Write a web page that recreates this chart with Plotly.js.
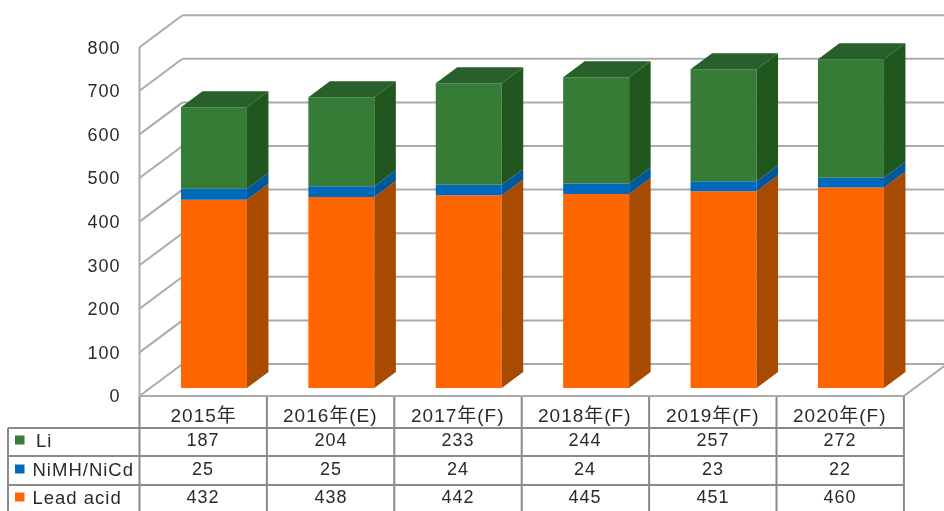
<!DOCTYPE html>
<html>
<head>
<meta charset="utf-8">
<script src="https://cdn.plot.ly/plotly-3.0.1.min.js"></script>
<style>
html,body{margin:0;padding:0;background:#fff}
#chart{width:944px;height:511px;filter:blur(0.5px)}
#chart text{letter-spacing:1px}
</style>
</head>
<body>
<div id="chart"></div>
<script>
// ---- data ----
const categories = ['2015年','2016年(E)','2017年(F)','2018年(F)','2019年(F)','2020年(F)'];
const leadAcid = [432,438,442,445,451,460];
const nimh     = [25,25,24,24,23,22];
const li       = [187,204,233,244,257,272];
const yTicks   = [0,100,200,300,400,500,600,700,800];

// ---- styling ----
const W = 944, H = 511;
const axisLeftPx = 139.5, slotPx = 127.4, zeroPx = 396, pxPerUnit = 0.436;
const depthX = 43/slotPx, depthY = 32/pxPerUnit;   // projection of the full chart depth
const dFront = 0.25, dBack = 0.75, barW = 66/slotPx;
const gridColor = '#ababab', tableColor = '#8a8a8a', textColor = '#2a2a2a';
const fontFamily = '"Liberation Sans","Noto Sans CJK SC",sans-serif';

const series = [
  {name:'Lead acid', values:leadAcid, front:'#ff6600', side:'#a84a00', top:'#a84a00'},
  {name:'NiMH/NiCd', values:nimh,     front:'#0069bd', side:'#00579c', top:'#00579c'},
  {name:'Li',        values:li,       front:'#367c36', side:'#20571f', top:'#27602a'}
];

const paperX = px => px/W, paperY = px => 1-px/H;
const traces = [];
const n = categories.length;
const centers = categories.map((_,i)=>i+0.5+dFront*depthX);
const cum = categories.map(()=>0);

series.forEach(s=>{
  const base = cum.map(c=>c+dFront*depthY);
  traces.push({type:'bar',name:s.name,x:centers,y:s.values,base:base,width:barW,
    marker:{color:s.front,line:{width:0}},hoverinfo:'skip',showlegend:false});
  const sx=[],sy=[];
  s.values.forEach((v,i)=>{
    const r=centers[i]+barW/2, b0=cum[i], b1=cum[i]+v, dd=dBack-dFront;
    const f=dFront*depthY;
    sx.push(r,r+dd*depthX,r+dd*depthX,r,null);
    sy.push(b0+f,b0+f+dd*depthY,b1+f+dd*depthY,b1+f,null);
    cum[i]=b1;
  });
  traces.push({type:'scatter',mode:'lines',x:sx,y:sy,fill:'toself',fillcolor:s.side,
    line:{width:0,color:s.side},hoverinfo:'skip',showlegend:false});
});
// top faces of the stack
const tx=[],ty=[];
cum.forEach((t,i)=>{
  const l=centers[i]-barW/2, r=centers[i]+barW/2, dd=dBack-dFront, f=dFront*depthY;
  tx.push(l,r,r+dd*depthX,l+dd*depthX,null);
  ty.push(t+f,t+f,t+f+dd*depthY,t+f+dd*depthY,null);
});
traces.push({type:'scatter',mode:'lines',x:tx,y:ty,fill:'toself',fillcolor:series[2].top,
  line:{width:0,color:series[2].top},hoverinfo:'skip',showlegend:false});

// ---- walls ----
const shapes = [];
const gl = {color:gridColor,width:2};
const xMax = (W-axisLeftPx)/slotPx;
yTicks.forEach(t=>{
  shapes.push({type:'line',layer:'below',xref:'x',yref:'y',x0:0,y0:t,x1:depthX,y1:t+depthY,line:gl});
  shapes.push({type:'line',layer:'below',xref:'x',yref:'y',x0:depthX,y0:t+depthY,x1:xMax+0.1,y1:t+depthY,line:gl});
});
shapes.push({type:'line',layer:'below',xref:'x',yref:'y',x0:0,y0:0,x1:0,y1:800,line:gl});
shapes.push({type:'line',layer:'below',xref:'x',yref:'y',x0:0,y0:0,x1:n,y1:0,line:gl});
shapes.push({type:'line',layer:'below',xref:'x',yref:'y',x0:n,y0:0,x1:n+depthX,y1:depthY,line:gl});

// ---- data table ----
const tl = {color:tableColor,width:2};
const headerBottomPx = 428, rowLinesPx = [428,456,485], tableLeftPx = 8;
rowLinesPx.forEach(p=>{
  shapes.push({type:'line',layer:'below',xref:'paper',yref:'paper',x0:paperX(tableLeftPx),x1:paperX(axisLeftPx+n*slotPx),y0:paperY(p),y1:paperY(p),line:tl});
});
shapes.push({type:'line',layer:'below',xref:'paper',yref:'paper',x0:paperX(tableLeftPx),x1:paperX(tableLeftPx),y0:paperY(headerBottomPx),y1:0,line:tl});
for(let i=0;i<=n;i++){
  shapes.push({type:'line',layer:'below',xref:'x',yref:'paper',x0:i,x1:i,y0:paperY(zeroPx),y1:0,line:tl});
}
const annotations = [];
const txt = (x,xref,yPx,text,anchor,size)=>annotations.push({x:x,xref:xref,y:paperY(yPx),yref:'paper',text:text,showarrow:false,
  xanchor:anchor||'center',yanchor:'middle',font:{family:fontFamily,size:size||18,color:textColor}});
categories.forEach((c,i)=>txt(i+0.5,'x',415,c,'center',19));
const rows = [series[2],series[1],series[0]], rowMidPx = [440,469,497];
rows.forEach((s,r)=>{
  shapes.push({type:'rect',layer:'below',xref:'paper',yref:'paper',
    x0:paperX(15),x1:paperX(24.5),y0:paperY(rowMidPx[r]-4.5),y1:paperY(rowMidPx[r]+4.5),
    fillcolor:s.front,line:{width:0}});
  txt(paperX(35),'paper',rowMidPx[r],s.name,'left',18.5);
  s.values.forEach((v,i)=>txt(i+0.5,'x',rowMidPx[r],String(v)));
});

const layout = {
  width:W,height:H,margin:{l:0,r:0,t:0,b:0},
  paper_bgcolor:'#fff',plot_bgcolor:'#fff',showlegend:false,barmode:'overlay',
  xaxis:{visible:false,range:[-axisLeftPx/slotPx,(W-axisLeftPx)/slotPx],fixedrange:true},
  yaxis:{range:[(zeroPx-H)/pxPerUnit,zeroPx/pxPerUnit],anchor:'free',position:axisLeftPx/W,
    tickmode:'array',tickvals:yTicks,ticktext:yTicks.map(String),showgrid:false,zeroline:false,showline:false,ticks:'',
    ticklabelstandoff:19,tickfont:{family:fontFamily,size:18,color:textColor},fixedrange:true},
  shapes:shapes,annotations:annotations
};
Plotly.newPlot('chart',traces,layout,{displayModeBar:false,staticPlot:true});
</script>
</body>
</html>
